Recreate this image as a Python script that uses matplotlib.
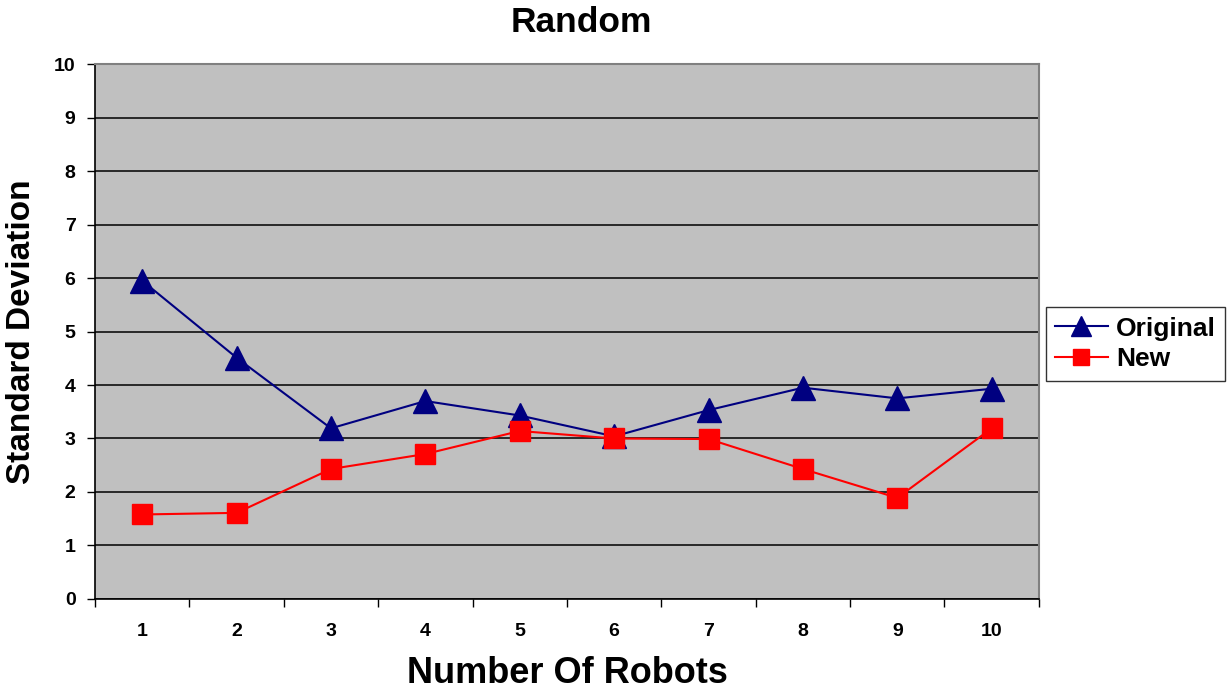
import matplotlib.pyplot as plt
from matplotlib.ticker import MultipleLocator

robots = list(range(1, 11))
original = [5.95, 4.51, 3.19, 3.70, 3.43, 3.04, 3.53, 3.95, 3.75, 3.93]
new = [1.58, 1.61, 2.43, 2.71, 3.14, 3.00, 2.99, 2.43, 1.89, 3.19]

plt.rcParams['font.family'] = ['Liberation Sans', 'DejaVu Sans']
plt.rcParams['font.weight'] = 'bold'

fig = plt.figure(figsize=(12.29, 6.92), dpi=100)
ax = fig.add_axes([0.0773, 0.1344, 0.768, 0.7731])
ax.set_facecolor('#c0c0c0')

ax.plot(robots, original, color='#000080', marker='^', markersize=17,
        linewidth=1.5, label='Original', zorder=3)
ax.plot(robots, new, color='#ff0000', marker='s', markersize=14,
        linewidth=1.5, label='New', zorder=3)

ax.set_xlim(0.5, 10.5)
ax.set_ylim(0, 10)
ax.yaxis.set_major_locator(MultipleLocator(1))
ax.grid(axis='y', color='black', linewidth=1.1, zorder=1)
ax.set_axisbelow(True)

# category ticks sit between the points, labels centred on each point
ax.set_xticks([i + 0.5 for i in range(0, 11)])
ax.set_xticklabels([])
ax.set_xticks(robots, minor=True)
ax.set_xticklabels([str(r) for r in robots], minor=True, fontsize=14, fontweight='bold')
ax.tick_params(axis='x', which='minor', length=0, pad=17)
ax.tick_params(axis='x', which='major', length=6, direction='out', width=1)
ax.tick_params(axis='y', length=6, width=1, labelsize=14, pad=8)
for lbl in ax.get_yticklabels():
    lbl.set_fontweight('bold')

for side in ['top', 'right']:
    ax.spines[side].set_color('#808080')
    ax.spines[side].set_linewidth(1.5)
ax.spines['left'].set_linewidth(1.2)
ax.spines['bottom'].set_linewidth(1.2)

fig.text(0.473, 0.968, 'Random', fontsize=25.5, fontweight='bold',
         ha='center', va='center')
ax.set_xlabel('Number Of Robots', fontsize=26, fontweight='bold', labelpad=12)
ax.set_ylabel('Standard Deviation', fontsize=24, fontweight='bold', labelpad=12)

leg = ax.legend(loc='center left', bbox_to_anchor=(1.0074, 0.4766), fontsize=19,
                frameon=True, fancybox=False, edgecolor='black',
                handlelength=2.0, borderpad=0.35, labelspacing=0.25,
                handletextpad=0.3, borderaxespad=0, markerscale=0.85)
leg.get_frame().set_linewidth(1.0)
for t in leg.get_texts():
    t.set_fontweight('bold')

fig.savefig('out.png', dpi=100)
